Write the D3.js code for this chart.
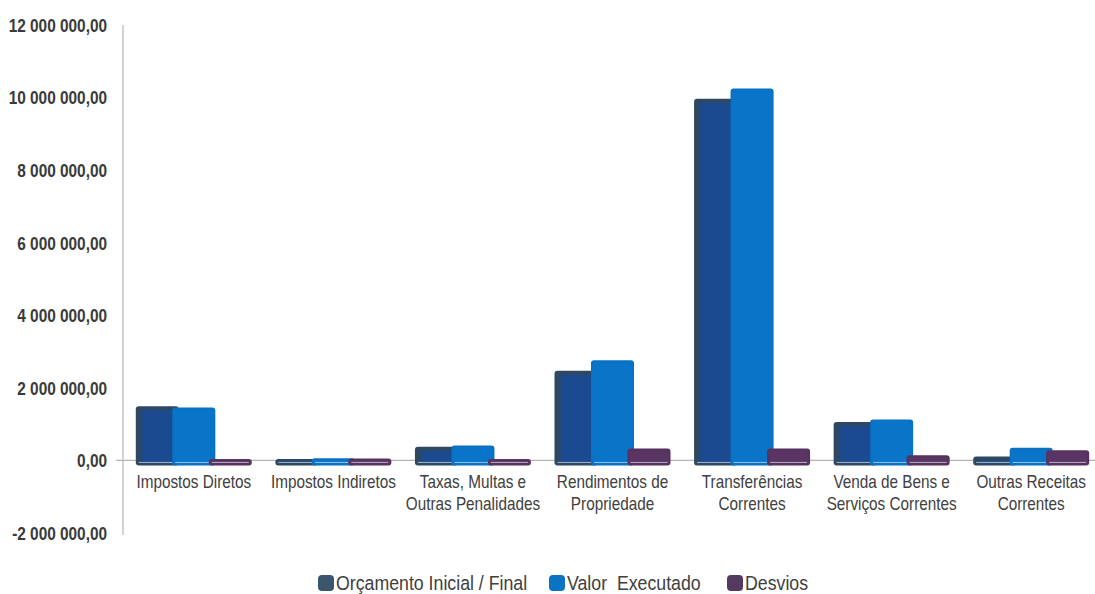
<!DOCTYPE html>
<html>
<head>
<meta charset="utf-8">
<script src="https://cdn.jsdelivr.net/npm/d3@7"></script>
<style>
  body { margin: 0; background: #fff; }
  svg text { font-family: "Liberation Sans Narrow", "Arial Narrow", "Liberation Sans", sans-serif; }
</style>
</head>
<body>
<script>
// categorias (com quebra de linha)
var categories = [
    ["Impostos Diretos"],
    ["Impostos Indiretos"],
    ["Taxas, Multas e", "Outras Penalidades"],
    ["Rendimentos de", "Propriedade"],
    ["Transferências", "Correntes"],
    ["Venda de Bens e", "Serviços Correntes"],
    ["Outras Receitas", "Correntes"]
];
var seriesNames = ["Orçamento Inicial / Final", "Valor  Executado", "Desvios"];
var orcamento = [1490000, 40000, 380000, 2470000, 9970000, 1060000, 110000];
var executado = [1460000, 60000, 410000, 2760000, 10250000, 1130000, 350000];
var desvios   = [40000, 50000, 40000, 330000, 330000, 140000, 280000];
var yTicks = [-2000000, 0, 2000000, 4000000, 6000000, 8000000, 10000000, 12000000];

var width = 1095, height = 594;
var margins = {top:25, bottom:61, left:124, right:-6};

var svg = d3.select("body").append("svg")
    .attr("width", width)
    .attr("height", height);

var pt = d3.formatLocale({decimal:",", thousands:" ", grouping:[3], currency:["",""], minus:"-"});
var fmt = pt.format(",.2f");

var x = d3.scaleBand()
    .domain(d3.range(categories.length))
    .range([margins.left, width - margins.right]);

var y = d3.scaleLinear()
    .domain([-2000000, 12000000])
    .range([height - margins.bottom, margins.top]);

var inner = d3.scaleBand()
    .domain([0, 1, 2])
    .range([0, 116])
    .paddingInner(-0.18);

var colors = ["#2f4862", "#0a72c4", "#58325f"];
var faces  = ["#1b4a90", "#0a74c8", "#5a3563"];

// eixo y
svg.append("line")
    .attr("x1", margins.left - 1).attr("x2", margins.left - 1)
    .attr("y1", y(12000000)).attr("y2", y(-2000000) + 2)
    .attr("stroke", "#c4c4c4").attr("stroke-width", 1.5);

// fonte estreita simulada com scale horizontal
svg.selectAll(".ytick")
    .data(yTicks)
    .enter()
    .append("text")
    .attr("class", "ytick")
    .attr("transform", function(d){ return "translate(107," + y(d) + ") scale(0.81,1)"; })
    .attr("dy", "0.36em")
    .attr("text-anchor", "end")
    .attr("font-size", 19)
    .attr("font-weight", "bold")
    .attr("fill", "#3a3a3a")
    .text(function(d){ return fmt(d); });

// linha do zero
svg.append("line")
    .attr("x1", margins.left - 8).attr("x2", width)
    .attr("y1", y(0)).attr("y2", y(0))
    .attr("stroke", "#b5b5b5").attr("stroke-width", 1.2);

var series = [orcamento, executado, desvios];
var groups = svg.selectAll(".cat")
    .data(categories)
    .enter()
    .append("g")
    .attr("class", "cat")
    .attr("transform", function(d, i){
        return "translate(" + (x(i) + x.bandwidth()/2 - 58) + ",0)";
    });

series.forEach(function(vals, s){
    groups.append("rect")
        .attr("x", inner(s))
        .attr("width", inner.bandwidth())
        .attr("y", function(d, i){ return y(vals[i]); })
        .attr("height", function(d, i){ return y(0) + 5 - y(vals[i]); })
        .attr("rx", 3)
        .attr("fill", colors[s]);
    groups.append("rect")
        .attr("x", inner(s) + (s == 0 ? 6 : 2))
        .attr("width", inner.bandwidth() - (s == 0 ? 8 : 4))
        .attr("y", function(d, i){ return Math.min(y(vals[i]) + (s == 0 ? 4 : 2), y(0) + 1); })
        .attr("height", function(d, i){ return Math.max(y(0) + 2 - Math.min(y(vals[i]) + (s == 0 ? 4 : 2), y(0) + 1), 1); })
        .attr("rx", 2)
        .attr("fill", faces[s]);
    groups.append("line")
        .attr("x1", inner(s) + 3)
        .attr("x2", inner(s) + inner.bandwidth() - 3)
        .attr("y1", y(0) + 2).attr("y2", y(0) + 2)
        .attr("stroke", "#d8e4f0").attr("stroke-width", 1)
        .attr("opacity", 0.7);
});

// rótulos das categorias
groups.each(function(lines, i){
    var t = d3.select(this).append("text")
        .attr("transform", "translate(58,0) scale(0.85,1)")
        .attr("text-anchor", "middle")
        .attr("font-size", 18)
        .attr("fill", "#404040");
    lines.forEach(function(l, k){
        t.append("tspan")
            .attr("x", 0)
            .attr("y", y(0) + 28 + k * 22)
            .text(l);
    });
});

// legenda
var legendX = [318, 549, 727];
var legend = svg.selectAll(".legend")
    .data(seriesNames)
    .enter()
    .append("g")
    .attr("class", "legend")
    .attr("transform", function(d, i){ return "translate(" + legendX[i] + ",583)"; });

legend.append("rect")
    .attr("x", 0).attr("y", -8)
    .attr("width", 16).attr("height", 16)
    .attr("rx", 4)
    .attr("fill", function(d, i){ return ["#3b556e", "#0a74c4", "#553a60"][i]; });

legend.append("text")
    .attr("transform", "translate(18,0) scale(0.91,1)")
    .attr("dy", "0.36em")
    .attr("font-size", 19.5)
    .attr("fill", "#404040")
    .style("white-space", "pre")
    .text(function(d){ return d; });
</script>
</body>
</html>
